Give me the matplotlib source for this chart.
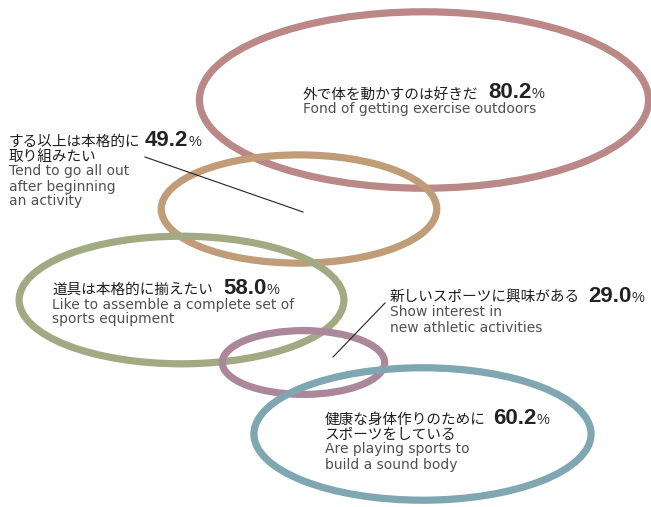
import matplotlib
matplotlib.use("Agg")
import matplotlib.pyplot as plt
from matplotlib.patches import Ellipse

# Survey answers: share of respondents (%) for each attitude
labels_ja = [
    "外で体を動かすのは好きだ",
    "する以上は本格的に\n取り組みたい",
    "道具は本格的に揃えたい",
    "新しいスポーツに興味がある",
    "健康な身体作りのために\nスポーツをしている",
]
labels_en = [
    "Fond of getting exercise outdoors",
    "Tend to go all out\nafter beginning\nan activity",
    "Like to assemble a complete set of\nsports equipment",
    "Show interest in\nnew athletic activities",
    "Are playing sports to\nbuild a sound body",
]
values = [80.2, 49.2, 58.0, 29.0, 60.2]

# Ring colours
colors = ["#bb8888", "#c09d78", "#a2aa84", "#ab8899", "#7fa7b1"]

# Layout (pixel coordinates, y downward)
W, H = 651, 507
centers = [(424, 100), (299, 209), (181.5, 300), (303.5, 362.5), (422.5, 434)]
label_xy = [(303, 99), (9, 146), (52, 294), (390, 302), (325, 424)]
number_x = [488, 145, 223, 588, 493]
leaders = [None, ((145, 157), (303, 212)), None, ((385, 303), (333, 357)), None]
W_PER_PCT, H_PER_PCT = 5.6, 2.2
LINE = 15

JA_FONT = ["Noto Sans CJK JP", "DejaVu Sans"]
EN_FONT = ["DejaVu Sans"]
NUM_FONT = ["Liberation Sans", "DejaVu Sans"]

fig = plt.figure(figsize=(W / 100, H / 100), dpi=100)
ax = fig.add_axes([0, 0, 1, 1])
ax.set_xlim(0, W)
ax.set_ylim(H, 0)
ax.axis("off")

for i, v in enumerate(values):
    ax.add_patch(Ellipse(centers[i], W_PER_PCT * v, H_PER_PCT * v,
                         fill=False, edgecolor=colors[i], linewidth=5.2,
                         zorder=1 + i))

renderer = fig.canvas.get_renderer()
inv = ax.transData.inverted()

for i, v in enumerate(values):
    x, y = label_xy[i]
    ja_lines = labels_ja[i].split("\n")
    for k, line in enumerate(ja_lines):
        ax.text(x, y + k * LINE, line, family=JA_FONT, fontsize=10.5,
                color="#1e1e1e", ha="left", va="baseline", zorder=10)
    y_en = y + len(ja_lines) * LINE
    for k, line in enumerate(labels_en[i].split("\n")):
        ax.text(x, y_en + k * LINE - 0.5, line, family=EN_FONT, fontsize=10,
                color="#505050", ha="left", va="baseline", zorder=10)
    num = ax.text(number_x[i], y - 0.5, f"{v:.1f}", family=NUM_FONT,
                  fontsize=16, fontweight="bold", color="#222222",
                  ha="left", va="baseline", zorder=10)
    bb = num.get_window_extent(renderer=renderer)
    x_end = inv.transform((bb.x1, bb.y0))[0]
    ax.text(x_end, y - 0.5, "%", family=NUM_FONT, fontsize=10.5,
            color="#333333", ha="left", va="baseline", zorder=10)
    if leaders[i] is not None:
        (x0, y0), (x1, y1) = leaders[i]
        ax.plot([x0, x1], [y0, y1], color="#222222", linewidth=0.8,
                zorder=11)

fig.savefig("out.png", dpi=100)
